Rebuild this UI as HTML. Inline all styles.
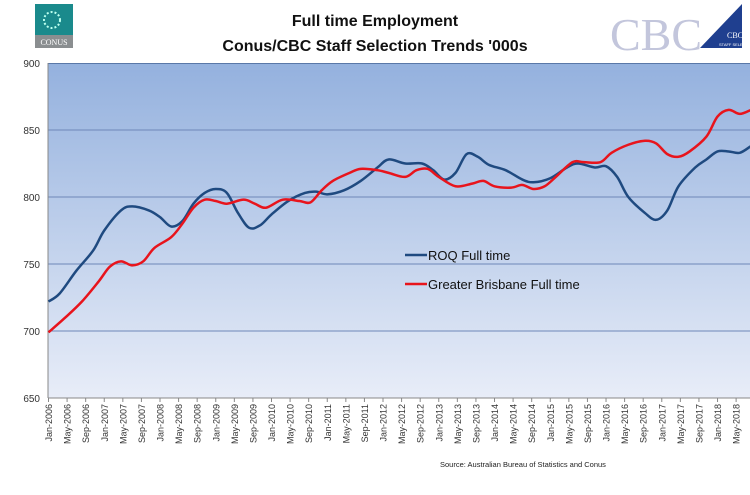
<!DOCTYPE html>
<html><head><meta charset="utf-8"><style>
body{margin:0;width:750px;height:490px;background:#fff;overflow:hidden;font-family:"Liberation Sans",sans-serif}
</style></head><body>
<svg id="s" width="750" height="490" xmlns="http://www.w3.org/2000/svg" font-family="Liberation Sans, sans-serif">
<defs>
<linearGradient id="g" x1="0" y1="0" x2="0" y2="1">
<stop offset="0" stop-color="#94b1de"/><stop offset="1" stop-color="#e8edf8"/>
</linearGradient>
</defs>
<rect x="48" y="63" width="702" height="335" fill="url(#g)"/>
<g stroke="#6e88b8" stroke-width="1">
<line x1="48" x2="750" y1="130" y2="130"/><line x1="48" x2="750" y1="197" y2="197"/>
<line x1="48" x2="750" y1="264" y2="264"/><line x1="48" x2="750" y1="331" y2="331"/>
<line x1="48" x2="750" y1="63.5" y2="63.5" stroke="#5a78a8"/>
</g>
<line x1="48" x2="750" y1="398" y2="398" stroke="#888"/>
<line x1="48" x2="48" y1="63" y2="398" stroke="#888"/>
<g font-size="10" fill="#333" text-anchor="end">
<text x="40" y="67">900</text><text x="40" y="134">850</text><text x="40" y="201">800</text>
<text x="40" y="268">750</text><text x="40" y="335">700</text><text x="40" y="402">650</text>
</g>
<g id="ticks" font-size="9" fill="#333"></g>
<path id="roq" fill="none" stroke="#1f4a80" stroke-width="2.5" stroke-linejoin="round"/>
<path id="bris" fill="none" stroke="#e8141c" stroke-width="2.5" stroke-linejoin="round"/>
<line x1="405" x2="427" y1="255" y2="255" stroke="#1f4a80" stroke-width="2.5"/>
<text x="428" y="260" font-size="13" fill="#111">ROQ Full time</text>
<line x1="405" x2="427" y1="284" y2="284" stroke="#e8141c" stroke-width="2.5"/>
<text x="428" y="289" font-size="13" fill="#111">Greater Brisbane Full time</text>
<text x="375" y="26" font-size="16" font-weight="bold" text-anchor="middle" fill="#111">Full time Employment</text>
<text x="375" y="51" font-size="16" font-weight="bold" text-anchor="middle" fill="#111">Conus/CBC Staff Selection Trends '000s</text>
<text x="440" y="467" font-size="7.5" fill="#222">Source: Australian Bureau of Statistics and Conus</text>
<rect x="35" y="4" width="38" height="31" fill="#1a8a8c"/>
<circle cx="52" cy="20" r="8" fill="none" stroke="#bfe" stroke-width="2" stroke-dasharray="2 2"/>
<rect x="35" y="35" width="38" height="13" fill="#8a8e90"/>
<text x="54" y="45" font-size="8" fill="#fff" text-anchor="middle" font-family="Liberation Serif,serif">CONUS</text>
<text x="610" y="50" font-size="46" fill="#c3c6dc" font-family="Liberation Serif,serif">CBC</text>
<polygon points="742,4 742,48 700,48" fill="#1f3f8f"/>
<text x="727" y="38" font-size="8" fill="#fff" font-family="Liberation Serif,serif">CBC</text>
<text x="719" y="46" font-size="4" fill="#fff">STAFF SELECTION</text>
</svg>
<script>
var X=function(y){return 48.5+(y-2006)*55.75},Y=function(v){return 63+(900-v)*1.34};
var roq=[[2006.0,722],[2006.2,728],[2006.5,745],[2006.8,760],[2007.0,775],[2007.3,790],[2007.5,793],[2007.8,790],[2008.0,785],[2008.2,778],[2008.4,782],[2008.6,795],[2008.8,803],[2009.0,806],[2009.2,803],[2009.4,788],[2009.6,777],[2009.8,779],[2010.0,787],[2010.3,797],[2010.6,803],[2010.8,804],[2011.0,802],[2011.3,805],[2011.6,812],[2011.9,822],[2012.1,828],[2012.4,825],[2012.7,825],[2012.9,820],[2013.1,813],[2013.3,818],[2013.5,832],[2013.7,830],[2013.9,824],[2014.2,820],[2014.5,813],[2014.7,811],[2015.0,814],[2015.3,822],[2015.5,825],[2015.8,822],[2016.0,823],[2016.2,815],[2016.4,800],[2016.7,788],[2016.9,783],[2017.1,790],[2017.3,808],[2017.6,822],[2017.8,828],[2018.0,834],[2018.2,834],[2018.4,833],[2018.6,838]];
var bris=[[2006.0,699],[2006.3,710],[2006.6,722],[2006.9,737],[2007.1,748],[2007.3,752],[2007.5,749],[2007.7,752],[2007.9,762],[2008.2,770],[2008.4,780],[2008.6,792],[2008.8,798],[2009.0,797],[2009.2,795],[2009.5,798],[2009.7,795],[2009.9,792],[2010.2,798],[2010.5,797],[2010.7,796],[2010.9,805],[2011.1,812],[2011.4,818],[2011.6,821],[2011.9,820],[2012.1,818],[2012.4,815],[2012.6,820],[2012.8,821],[2013.0,815],[2013.3,808],[2013.6,810],[2013.8,812],[2014.0,808],[2014.3,807],[2014.5,809],[2014.7,806],[2014.9,808],[2015.1,815],[2015.4,826],[2015.6,826],[2015.9,826],[2016.1,833],[2016.4,839],[2016.7,842],[2016.9,840],[2017.1,832],[2017.3,830],[2017.5,834],[2017.8,845],[2018.0,860],[2018.2,865],[2018.4,862],[2018.6,865]];
function path(d){var p=d.map(function(a){return [X(a[0]),Y(a[1])]});var s="M"+p[0][0]+","+p[0][1];
for(var i=0;i<p.length-1;i++){var p0=p[i-1]||p[i],p1=p[i],p2=p[i+1],p3=p[i+2]||p2;
s+=" C"+(p1[0]+(p2[0]-p0[0])/6)+","+(p1[1]+(p2[1]-p0[1])/6)+" "+(p2[0]-(p3[0]-p1[0])/6)+","+(p2[1]-(p3[1]-p1[1])/6)+" "+p2[0]+","+p2[1];}return s;}
document.getElementById("roq").setAttribute("d",path(roq));
document.getElementById("bris").setAttribute("d",path(bris));
var m=["Jan","May","Sep"],g=document.getElementById("ticks"),h="";
for(var i=0;i<38;i++){var yr=2006+Math.floor(i/3),x=48.5+i*4*4.646;
h+='<line x1="'+x+'" x2="'+x+'" y1="398" y2="402" stroke="#888"/>';
h+='<text transform="translate('+(x+3.5)+',404) rotate(-90)" text-anchor="end">'+m[i%3]+'-'+yr+'</text>';}
g.innerHTML=h;
</script>
</body></html>
